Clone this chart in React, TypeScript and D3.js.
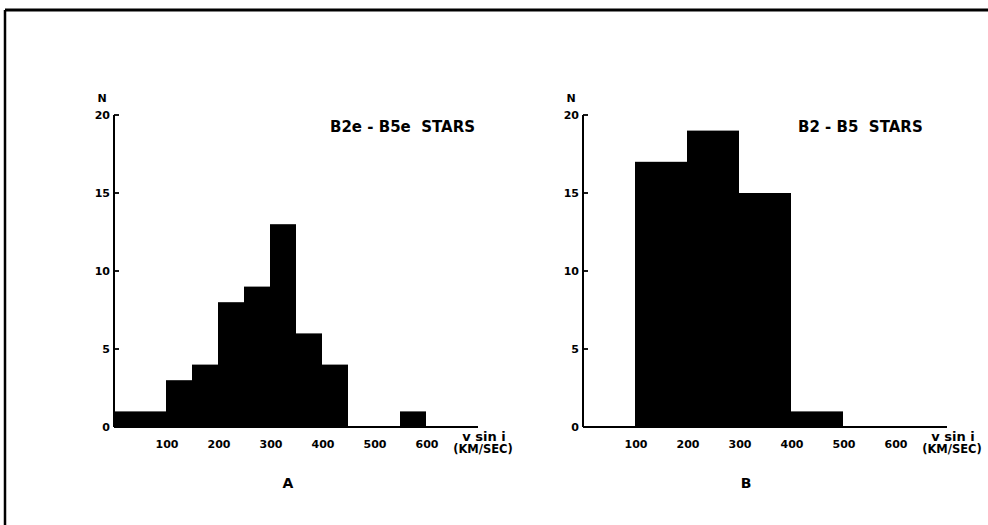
import React from "react";
import * as d3 from "d3";

const binStartsA = [0, 50, 100, 150, 200, 250, 300, 350, 400, 550];
const countsA = [1, 1, 3, 4, 8, 9, 13, 6, 4, 1];
const binWidthA = 50;

const binStartsB = [100, 200, 300, 400];
const countsB = [17, 19, 15, 1];
const binWidthB = 100;

const xTicks = [100, 200, 300, 400, 500, 600];
const yTicks = [0, 5, 10, 15, 20];
const titles = ["B2e - B5e  STARS", "B2 - B5  STARS"];
const panelLabels = ["A", "B"];

const W = 988;
const H = 525;
const FONT = "'DejaVu Sans', 'Liberation Sans', sans-serif";

type PanelProps = {
  x0: number;
  starts: number[];
  counts: number[];
  width: number;
  title: string;
  titleX: number;
  label: string;
  labelX: number;
};

function Panel({ x0, starts, counts, width, title, titleX, label, labelX }: PanelProps) {
  const x = d3.scaleLinear().domain([0, 700]).range([x0, x0 + 364]);
  const y = d3.scaleLinear().domain([0, 20]).range([427, 115]);
  const bins = starts.map((s, i) => ({ s, e: s + width, n: counts[i] }));
  return (
    <g>
      {bins.map((b, i) => (
        <rect
          key={i}
          x={x(b.s)}
          y={y(b.n)}
          width={x(b.e) - x(b.s)}
          height={y(0) - y(b.n)}
          fill="#000"
        />
      ))}
      <line x1={x(0)} x2={x(0)} y1={y(0)} y2={y(20)} stroke="#000" strokeWidth={2} />
      <line x1={x(0)} x2={x(700)} y1={y(0)} y2={y(0)} stroke="#000" strokeWidth={2} />
      {yTicks.map((t) => (
        <g key={t}>
          {t > 0 && (
            <line x1={x(0)} x2={x(0) + 5} y1={y(t)} y2={y(t)} stroke="#000" strokeWidth={1.8} />
          )}
          <text
            x={x(0) - 4}
            y={y(t)}
            textAnchor="end"
            dominantBaseline="central"
            fontFamily={FONT}
            fontWeight="bold"
            fontSize={11}
          >
            {t}
          </text>
        </g>
      ))}
      {xTicks.map((t) => (
        <text
          key={t}
          x={x(t) + 1}
          y={444}
          textAnchor="middle"
          dominantBaseline="central"
          fontFamily={FONT}
          fontWeight="bold"
          fontSize={11}
        >
          {t}
        </text>
      ))}
      <text x={x(0) - 12} y={98} textAnchor="middle" dominantBaseline="central" fontFamily={FONT} fontWeight="bold" fontSize={11}>
        N
      </text>
      <text x={x(700) + 6} y={436} textAnchor="middle" dominantBaseline="central" fontFamily={FONT} fontWeight="bold" fontSize={13}>
        v sin i
      </text>
      <text x={x(700) + 5} y={449} textAnchor="middle" dominantBaseline="central" fontFamily={FONT} fontWeight="bold" fontSize={11.5}>
        (KM/SEC)
      </text>
      <text x={titleX} y={127} textAnchor="start" dominantBaseline="central" fontFamily={FONT} fontWeight="bold" fontSize={15} style={{ whiteSpace: "pre" }}>
        {title}
      </text>
      <text x={labelX} y={483} textAnchor="middle" dominantBaseline="central" fontFamily={FONT} fontWeight="bold" fontSize={14}>
        {label}
      </text>
    </g>
  );
}

export default function App() {
  return (
    <svg
      width={W}
      height={H}
      viewBox={`0 0 ${W} ${H}`}
      style={{ position: "fixed", top: 0, left: 0, background: "#fff" }}
    >
      <rect x={0} y={0} width={W} height={H} fill="#fff" />
      <line x1={5} x2={W} y1={10} y2={10} stroke="#000" strokeWidth={3} />
      <line x1={5} x2={5} y1={10} y2={H} stroke="#000" strokeWidth={2.5} />
      <Panel
        x0={114}
        starts={binStartsA}
        counts={countsA}
        width={binWidthA}
        title={titles[0]}
        titleX={330}
        label={panelLabels[0]}
        labelX={288}
      />
      <Panel
        x0={583}
        starts={binStartsB}
        counts={countsB}
        width={binWidthB}
        title={titles[1]}
        titleX={798}
        label={panelLabels[1]}
        labelX={746}
      />
    </svg>
  );
}
